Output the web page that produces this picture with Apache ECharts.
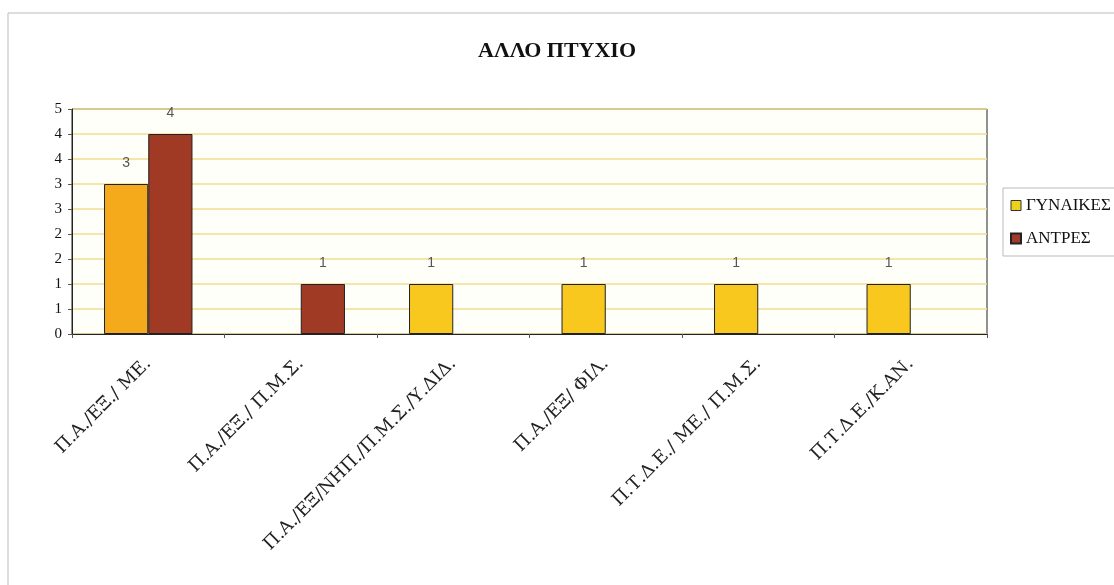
<!DOCTYPE html>
<html>
<head>
<meta charset="utf-8">
<script src="https://cdn.jsdelivr.net/npm/echarts@6/dist/echarts.min.js"></script>
<style>
html,body{margin:0;padding:0;background:#fff;}
#chart{width:1114px;height:585px;}
</style>
</head>
<body>
<div id="chart"></div>
<script>
var categories = ['Π.Α./ΕΞ./ ΜΕ.', 'Π.Α./ΕΞ./ Π.Μ.Σ.', 'Π.Α./ΕΞ/ΝΗΠ./Π.Μ.Σ./Υ.ΔΙΔ.', 'Π.Α./ΕΞ/ ΦΙΛ.', 'Π.Τ.Δ.Ε./ ΜΕ./ Π.Μ.Σ.', 'Π.Τ.Δ.Ε./Κ.ΑΝ.'];
var women = [3, null, 1, 1, 1, 1];
var men = [4, 1, null, null, null, null];
var yTickLabels = ['0', '1', '1', '2', '2', '3', '3', '4', '4', '5'];
var seriesNames = ['ΓΥΝΑΙΚΕΣ', 'ΑΝΤΡΕΣ'];

var chart = echarts.init(document.getElementById('chart'));
var serif = '"Liberation Serif", "DejaVu Serif", serif';
var wideSerif = '"DejaVu Serif", "Liberation Serif", serif';
var labelStyle = {show: true, position: 'top', distance: 14, color: '#555', fontSize: 14, fontFamily: '"Liberation Sans", Arial, sans-serif'};

chart.setOption({
  backgroundColor: '#fff',
  animation: false,
  title: {
    text: 'ΑΛΛΟ ΠΤΥΧΙΟ', left: 'center', top: 35,
    textStyle: {fontFamily: serif, fontWeight: 'bold', fontSize: 22, color: '#111'}
  },
  graphic: [{
    type: 'rect', shape: {x: 8, y: 13, width: 1200, height: 620},
    style: {fill: 'none', stroke: '#bbb', lineWidth: 1}, silent: true, z: -1
  }],
  legend: {
    orient: 'vertical', left: 1003, top: 188,
    padding: [9, 20, 9, 7], itemGap: 16,
    itemWidth: 10, itemHeight: 10,
    borderColor: '#bbb', borderWidth: 1,
    textStyle: {fontFamily: serif, fontSize: 17, color: '#111'},
    data: [
      {name: seriesNames[0], icon: 'rect', itemStyle: {color: '#ecd21a', borderColor: '#333', borderWidth: 1}},
      {name: seriesNames[1], icon: 'rect', itemStyle: {color: '#a03a2c'}}
    ]
  },
  grid: {
    left: 72, right: 127, top: 109, bottom: 251,
    show: true, backgroundColor: '#fffffa', borderColor: '#222', borderWidth: 1
  },
  xAxis: {
    type: 'category', data: categories,
    axisLine: {lineStyle: {color: '#222'}},
    axisTick: {show: true, length: 4, lineStyle: {color: '#555'}},
    axisLabel: {rotate: 45, interval: 0, margin: 27, fontFamily: wideSerif, fontSize: 18, color: '#222'}
  },
  yAxis: {
    type: 'value', min: 0, max: 4.5, interval: 0.5,
    axisLine: {show: true, lineStyle: {color: '#222'}},
    axisTick: {show: true, length: 4, lineStyle: {color: '#555'}},
    axisLabel: {
      fontFamily: serif, fontSize: 15, color: '#111', margin: 10,
      formatter: function (v) { return yTickLabels[Math.round(v / 0.5)]; }
    },
    splitLine: {lineStyle: {color: '#f0dc90', width: 1.5}}
  },
  series: [
    {
      name: seriesNames[0], type: 'bar', data: women,
      barWidth: '29%', barGap: '0%',
      itemStyle: {
        color: function (p) { return p.dataIndex === 0 ? '#f5aa1c' : '#f8c81e'; },
        borderColor: '#222', borderWidth: 1
      },
      label: labelStyle
    },
    {
      name: seriesNames[1], type: 'bar', data: men,
      barWidth: '29%', barGap: '0%',
      itemStyle: {color: '#a03a24', borderColor: '#222', borderWidth: 1},
      label: labelStyle
    }
  ]
});
</script>
</body>
</html>
